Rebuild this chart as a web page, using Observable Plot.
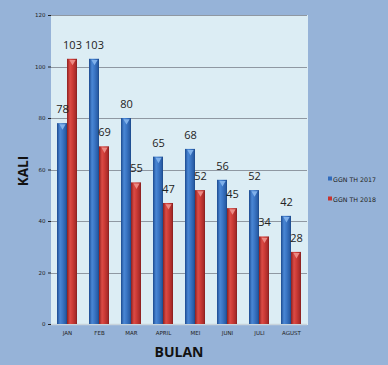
<!DOCTYPE html>
<html><head><meta charset="utf-8">
<script src="https://cdn.jsdelivr.net/npm/d3@7"></script>
<script src="https://cdn.jsdelivr.net/npm/@observablehq/plot@0.6"></script>
<style>
html,body{margin:0;padding:0;background:#96b3d8;}
#wrap{position:relative;width:388px;height:365px;overflow:hidden;background:#96b3d8;}
#wrap svg{position:absolute;left:0;top:0;}
.ttl{position:absolute;font-family:"Open Sans",sans-serif;font-weight:bold;color:#111;white-space:nowrap;}
#ytitle{left:23px;top:171px;font-size:13.5px;transform:translate(-50%,-50%) rotate(-90deg);}
#xtitle{left:179px;top:351px;font-size:14px;transform:translate(-50%,-50%);}
.leg{position:absolute;left:328px;font-family:"DejaVu Sans",sans-serif;font-size:6.3px;color:#222;white-space:nowrap;transform:translateY(-50%);}
.leg span{display:inline-block;width:4px;height:4px;margin-right:1px;vertical-align:middle;position:relative;top:-1px;}
</style></head><body><div id="wrap"></div>
<script>
const months = ["JAN","FEB","MAR","APRIL","MEI","JUNI","JULI","AGUST"];
const series = ["GGN TH 2017","GGN TH 2018"];
const values2017 = [78,103,80,65,68,56,52,42];
const values2018 = [103,69,55,47,52,45,34,28];
const yTicks = [0,20,40,60,80,100,120];
const colors = ["#2f6bbd","#c8332f"];
const capColors = ["#7fb0ea","#ec8a84"];

const data = months.flatMap((m,i)=>[
  {month:m, series:series[0], value:values2017[i]},
  {month:m, series:series[1], value:values2018[i]}
]);
const d17 = data.filter(d=>d.series===series[0]);
const d18 = data.filter(d=>d.series===series[1]);

const plot = Plot.plot({
  width:388, height:365,
  marginLeft:51, marginRight:81, marginTop:15, marginBottom:41,
  style:{background:"transparent", fontFamily:"DejaVu Sans", fontSize:"5.5px", color:"#222", overflow:"visible"},
  fx:{domain:months, paddingInner:0, paddingOuter:0, axis:"bottom", tickSize:0, tickPadding:7, label:null},
  x:{domain:series, paddingInner:0.05, paddingOuter:0.585, axis:null},
  y:{domain:[0,120], ticks:yTicks, tickSize:3, tickPadding:3, label:null, tickFormat:d=>String(d)},
  marks:[
    Plot.frame({fill:"#dcedf4", stroke:"#dcedf4", strokeWidth:1, shapeRendering:"crispEdges"}),
    Plot.ruleY(yTicks.slice(1), {stroke:"#8f98a2", strokeWidth:1, shapeRendering:"crispEdges"}),
    Plot.ruleY([0], {stroke:"#c9d4dc", strokeWidth:1.5}),
    Plot.barY(d17, {fx:"month", x:"series", y:"value", fill:colors[0]}),
    Plot.barY(d18, {fx:"month", x:"series", y:"value", fill:colors[1]}),
    Plot.dot(d17, {fx:"month", x:"series", y:"value", symbol:"triangle", rotate:180, r:2.3, dy:2.5, fill:capColors[0], stroke:null}),
    Plot.dot(d18, {fx:"month", x:"series", y:"value", symbol:"triangle", rotate:180, r:2.3, dy:2.5, fill:capColors[1], stroke:null}),
    Plot.text(data, {fx:"month", x:"series", y:"value", text:d=>String(d.value), dy:-14, fontSize:11, fontFamily:"Open Sans", fill:"#222"})
  ]
});

const svg = d3.select(plot);
const defs = svg.insert("defs", ":first-child");
function grad(id, stops){
  const g = defs.append("linearGradient").attr("id", id).attr("x1",0).attr("x2",1).attr("y1",0).attr("y2",0);
  stops.forEach(([o,c])=>g.append("stop").attr("offset",o).attr("stop-color",c));
}
grad("gb", [[0,"#1c4a8f"],[0.3,"#4a87d5"],[0.55,"#3b76c5"],[0.85,"#2a5ea8"],[1,"#1b4888"]]);
grad("gr", [[0,"#8c2020"],[0.3,"#dc4b45"],[0.55,"#cc3b36"],[0.85,"#aa2c2a"],[1,"#851e1e"]]);
svg.selectAll(`g[fill="${colors[0]}"]`).filter(function(){return this.querySelector("rect");}).attr("fill","url(#gb)");
svg.selectAll(`g[fill="${colors[1]}"]`).filter(function(){return this.querySelector("rect");}).attr("fill","url(#gr)");

const wrap = document.getElementById("wrap");
wrap.appendChild(plot);
wrap.insertAdjacentHTML("beforeend",
  `<div class="ttl" id="ytitle">KALI</div><div class="ttl" id="xtitle">BULAN</div>` +
  series.map((s,i)=>`<div class="leg" style="top:${179+i*20}px"><span style="background:${colors[i]}"></span>${s}</div>`).join(""));
</script>
</body></html>
